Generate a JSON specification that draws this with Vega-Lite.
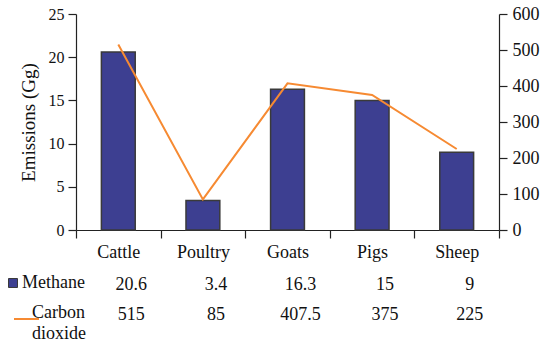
{
  "$schema": "https://vega.github.io/schema/vega-lite/v6.json",
  "padding": {"left": 14, "top": 5, "right": 5, "bottom": 5},
  "spacing": 9,
  "config": {
    "font": "Liberation Serif",
    "view": {"stroke": null},
    "axis": {"domainColor": "#222", "tickColor": "#222", "labelColor": "#111", "titleColor": "#111", "grid": false, "domainWidth": 1.2, "tickWidth": 1.2}
  },
  "data": {
    "values": [
      {"category": "Cattle", "Methane": 20.6, "Carbon dioxide": 515},
      {"category": "Poultry", "Methane": 3.4, "Carbon dioxide": 85},
      {"category": "Goats", "Methane": 16.3, "Carbon dioxide": 407.5},
      {"category": "Pigs", "Methane": 15, "Carbon dioxide": 375},
      {"category": "Sheep", "Methane": 9, "Carbon dioxide": 225}
    ]
  },
  "vconcat": [
    {
      "width": 423,
      "height": 216,
      "layer": [
        {
          "mark": {"type": "bar", "fill": "#3d3f91", "stroke": "#3a3a3a", "strokeWidth": 1.5, "width": {"band": 0.4}},
          "encoding": {
            "x": {
              "field": "category", "type": "nominal", "sort": null,
              "scale": {"paddingInner": 0, "paddingOuter": 0},
              "axis": {"title": null, "labelAngle": 0, "tickBand": "extent", "tickSize": 8, "labelPadding": 5, "labelFontSize": 18}
            },
            "y": {
              "field": "Methane", "type": "quantitative",
              "scale": {"domain": [0, 25]},
              "axis": {"title": "Emissions (Gg)", "values": [0, 5, 10, 15, 20, 25], "tickSize": 8, "labelPadding": 4, "labelFontSize": 16, "titleFontSize": 19, "titleFontWeight": "normal", "titlePadding": 10}
            }
          }
        },
        {
          "mark": {"type": "line", "color": "#f68a32", "strokeWidth": 2},
          "encoding": {
            "x": {"field": "category", "type": "nominal", "sort": null},
            "y": {
              "field": "Carbon dioxide", "type": "quantitative",
              "scale": {"domain": [0, 600]},
              "axis": {"orient": "right", "title": null, "values": [0, 100, 200, 300, 400, 500, 600], "tickSize": 8, "labelPadding": 5, "labelFontSize": 18}
            }
          }
        }
      ],
      "resolve": {"scale": {"y": "independent"}}
    },
    {
      "width": 423,
      "height": 60,
      "transform": [{"fold": ["Methane", "Carbon dioxide"], "as": ["series", "value"]}],
      "encoding": {
        "x": {"field": "category", "type": "nominal", "sort": null, "axis": null, "scale": {"paddingInner": 0, "paddingOuter": 0}},
        "y": {"field": "series", "type": "nominal", "sort": ["Methane", "Carbon dioxide"], "axis": null, "scale": {"paddingInner": 0, "paddingOuter": 0}}
      },
      "layer": [
        {
          "mark": {"type": "text", "fontSize": 18, "dx": 13, "color": "#111"},
          "encoding": {
            "text": {"field": "value", "type": "nominal"}
          }
        },
        {
          "mark": {"type": "text", "text": "", "fontSize": 18},
          "encoding": {
            "color": {
              "field": "series", "type": "nominal",
              "scale": {"domain": ["Methane", "Carbon dioxide"], "range": ["#3d3f91", "#f68a32"]},
              "legend": {
                "orient": "none", "legendX": -62, "legendY": 260, "title": null, "padding": 0,
                "symbolSize": 625, "labelOffset": 0, "rowPadding": 12,
                "labelFontSize": 18, "labelColor": "#111", "labelLimit": 0,
                "labelExpr": "datum.label == 'Carbon dioxide' ? ['Carbon', 'dioxide'] : datum.label",
                "encode": {
                  "symbols": {
                    "update": {
                      "shape": {"signal": "datum.value == 'Methane' ? 'square' : 'stroke'"},
                      "size": {"signal": "datum.value == 'Methane' ? 81 : 625"},
                      "x": {"signal": "datum.value == 'Methane' ? -1 : 12.5"},
                      "stroke": {"signal": "datum.value == 'Methane' ? '#3a3a3a' : '#f68a32'"},
                      "strokeWidth": {"signal": "datum.value == 'Methane' ? 1 : 2"},
                      "opacity": {"value": 1}
                    }
                  },
                  "labels": {
                    "update": {
                      "lineHeight": {"value": 21},
                      "dx": {"signal": "datum.value == 'Methane' ? -10 : 0"},
                      "dy": {"signal": "datum.value == 'Methane' ? 0 : -6"}
                    }
                  }
                }
              }
            }
          }
        }
      ]
    }
  ]
}
